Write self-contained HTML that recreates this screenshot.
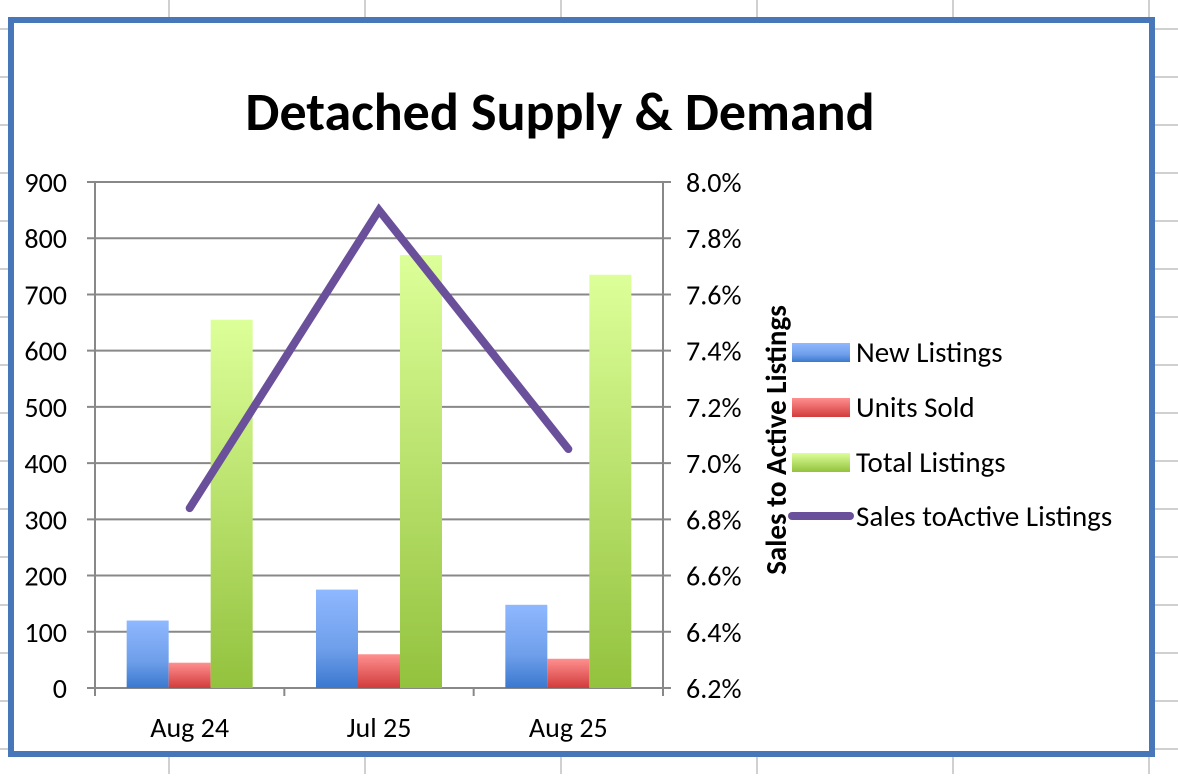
<!DOCTYPE html>
<html><head><meta charset="utf-8"><style>
body{margin:0;background:#fff;font-family:"Liberation Sans",Carlito,sans-serif}
svg text{font-family:"Carlito","Liberation Sans",sans-serif}
</style></head><body>
<svg width="1178" height="774" xmlns="http://www.w3.org/2000/svg">
<defs>
<linearGradient id="gb" x1="0" y1="0" x2="0" y2="1"><stop offset="0" stop-color="#8fb8ff"/><stop offset="0.6" stop-color="#6f9fea"/><stop offset="1" stop-color="#3a78cf"/></linearGradient>
<linearGradient id="gr" x1="0" y1="0" x2="0" y2="1"><stop offset="0" stop-color="#ff8f8f"/><stop offset="1" stop-color="#d23c3c"/></linearGradient>
<linearGradient id="gg" x1="0" y1="0" x2="0" y2="1"><stop offset="0" stop-color="#ddff99"/><stop offset="1" stop-color="#93c23e"/></linearGradient>
</defs>
<g id="sheet"></g>
<rect x="11" y="20" width="1141" height="734" fill="#fff" stroke="#4777b8" stroke-width="6"/>
<text x="560" y="130" text-anchor="middle" font-size="54" font-weight="bold">Detached Supply &amp; Demand</text>
<g id="plot"></g>
<text transform="translate(786,440) rotate(-90)" text-anchor="middle" font-size="29" font-weight="bold">Sales to Active Listings</text>
<g id="legend">
<rect x="792" y="343" width="58" height="19" fill="url(#gb)"/>
<text x="856" y="362" font-size="29">New Listings</text>
<rect x="792" y="398" width="58" height="19" fill="url(#gr)"/>
<text x="856" y="417" font-size="29">Units Sold</text>
<rect x="792" y="453" width="58" height="19" fill="url(#gg)"/>
<text x="856" y="472" font-size="29">Total Listings</text>
<line x1="792" y1="516" x2="850" y2="516" stroke="#6a4f9a" stroke-width="8" stroke-linecap="round"/>
<text x="856" y="526" font-size="29">Sales toActive Listings</text>
</g>
</svg>
<script>
const categories=["Aug 24","Jul 25","Aug 25"];
const newListings=[120,175,148];
const unitsSold=[45,60,52];
const totalListings=[655,770,735];
const salesRatio=[6.84,7.9,7.05];
const leftTicks=[0,100,200,300,400,500,600,700,800,900];
const rightTicks=["6.2%","6.4%","6.6%","6.8%","7.0%","7.2%","7.4%","7.6%","7.8%","8.0%"];
const NS="http://www.w3.org/2000/svg";
const X0=95,X1=663,Y0=688,Y1=182;
const yL=v=>Y0-(v/900)*(Y0-Y1);
const yR=v=>Y0-((v-6.2)/1.8)*(Y0-Y1);
const gw=(X1-X0)/categories.length;
const xc=i=>X0+gw*(i+0.5);
function mk(t,a,p){const e=document.createElementNS(NS,t);for(const k in a)e.setAttribute(k,a[k]);p.appendChild(e);return e;}
const sheet=document.getElementById('sheet');
[169,365,561,757,953,1149].forEach(x=>{mk('line',{x1:x,y1:0,x2:x,y2:774,stroke:'#d0d0d0','stroke-width':2},sheet);});
for(let y=29;y<774;y+=48){mk('line',{x1:0,y1:y,x2:1178,y2:y,stroke:'#d0d0d0','stroke-width':2},sheet);}
const plot=document.getElementById('plot');
leftTicks.forEach((v,i)=>{
 const y=yL(v);
 const g=mk('line',{x1:X0-8,y1:y,x2:X1+8,y2:y,stroke:'#888','stroke-width':2},plot);
 
 
 const t=mk('text',{x:67,y:y+10,'text-anchor':'end','font-size':28},plot);t.textContent=v;
 
 
 const t2=mk('text',{x:686,y:y+10,'font-size':28},plot);t2.textContent=rightTicks[i];
 
 
});
mk('line',{x1:X0,y1:Y1,x2:X0,y2:Y0+8,stroke:'#888','stroke-width':2},plot);
mk('line',{x1:X1,y1:Y1,x2:X1,y2:Y0,stroke:'#888','stroke-width':2},plot);
for(let i=0;i<=categories.length;i++){mk('line',{x1:X0+gw*i,y1:Y0,x2:X0+gw*i,y2:Y0+8,stroke:'#888','stroke-width':2},plot);}
const bw=42;
const series=[[newListings,'url(#gb)','bar-new'],[unitsSold,'url(#gr)','bar-sold'],[totalListings,'url(#gg)','bar-total']];
categories.forEach((c,i)=>{
 series.forEach((s,j)=>{
  const x=xc(i)-1.5*bw+j*bw;const y=yL(s[0][i]);
  const r=mk('rect',{x:x,y:y,width:bw,height:Y0-y,fill:s[1]},plot);
  
  
 });
 const t=mk('text',{x:xc(i),y:737,'text-anchor':'middle','font-size':28},plot);t.textContent=c;
 
 
});
const pts=salesRatio.map((v,i)=>xc(i)+','+yR(v)).join(' ');
const pl=mk('polyline',{points:pts,fill:'none',stroke:'#6a4f9a','stroke-width':8,'stroke-linecap':'round','stroke-linejoin':'miter'},plot);


</script>
</body></html>
